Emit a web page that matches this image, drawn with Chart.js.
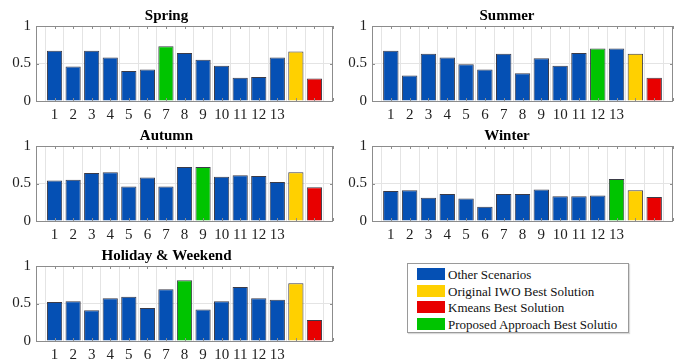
<!DOCTYPE html>
<html>
<head>
<meta charset="utf-8">
<script src="https://cdn.jsdelivr.net/npm/chart.js@4/dist/chart.umd.min.js"></script>
<style>
  body { margin: 0; background: #fff; }
  #wrap { position: relative; width: 683px; height: 360px; overflow: hidden; }
  .panel { position: absolute; }
  #legend {
    position: absolute; left: 407px; top: 263px; width: 220px; height: 68px;
    border: 1px solid #9a9a9a; background: #fff;
    box-shadow: 1px 1px 1px rgba(0,0,0,0.15);
    font-family: "Liberation Serif", "Times New Roman", Tinos, "DejaVu Serif", serif;
    font-size: 13px; color: #111;
  }
  .row { position: absolute; left: 9px; height: 13px; line-height: 13px; white-space: nowrap; }
  .sw { display: inline-block; width: 28px; height: 12px; vertical-align: top; margin-right: 3px; }
</style>
</head>
<body>
<div id="wrap">
  <canvas id="spring" class="panel"></canvas>
  <canvas id="summer" class="panel"></canvas>
  <canvas id="autumn" class="panel"></canvas>
  <canvas id="winter" class="panel"></canvas>
  <canvas id="holiday" class="panel"></canvas>
  <div id="legend"></div>
</div>
<script>
// Tick labels under the bars (last two bars are unlabeled)
const tickLabels = ["1", "2", "3", "4", "5", "6", "7", "8", "9", "10", "11", "12", "13", "", ""];
const yTicks = [0, 0.5, 1];

// 13 scenarios, then Original IWO best, then Kmeans best
const springValues = [0.67, 0.46, 0.67, 0.58, 0.40, 0.42, 0.73, 0.64, 0.55, 0.47, 0.31, 0.32, 0.58, 0.66, 0.30];
const summerValues = [0.67, 0.34, 0.63, 0.58, 0.49, 0.42, 0.63, 0.37, 0.57, 0.47, 0.64, 0.70, 0.70, 0.63, 0.31];
const autumnValues = [0.54, 0.55, 0.64, 0.65, 0.46, 0.58, 0.46, 0.72, 0.72, 0.59, 0.61, 0.60, 0.52, 0.65, 0.45];
const winterValues = [0.40, 0.41, 0.31, 0.36, 0.30, 0.19, 0.36, 0.36, 0.42, 0.33, 0.33, 0.34, 0.56, 0.41, 0.32];
const holidayValues = [0.52, 0.53, 0.41, 0.57, 0.59, 0.44, 0.69, 0.81, 0.42, 0.53, 0.72, 0.57, 0.55, 0.77, 0.28];

// Scenario number of the proposed approach's best solution (green bar)
const springBest = 7;
const summerBest = 12;
const autumnBest = 9;
const winterBest = 13;
const holidayBest = 8;

const legendLabels = ["Other Scenarios", "Original IWO Best Solution", "Kmeans Best Solution", "Proposed Approach Best Solutio"];

const colors = {
  other: "#0550b4",
  iwo: "#ffd000",
  kmeans: "#e80000",
  proposed: "#00c400",
};

const serif = "'Liberation Serif', 'Times New Roman', Tinos, 'DejaVu Serif', serif";

// Draw the box round the axes plus small inward tick marks, MATLAB style
const framePlugin = {
  id: "frame",
  afterDraw(chart) {
    const { ctx, chartArea: a, scales } = chart;
    ctx.save();
    ctx.strokeStyle = "#8c8c8c";
    ctx.lineWidth = 1;
    ctx.strokeRect(a.left + 0.5, a.top + 0.5, a.right - a.left - 1, a.bottom - a.top);
    ctx.beginPath();
    scales.x.ticks.forEach((t, i) => {
      const x = Math.round(scales.x.getPixelForTick(i)) + 0.5;
      ctx.moveTo(x, a.top);
      ctx.lineTo(x, a.top + 3);
      ctx.moveTo(x, a.bottom);
      ctx.lineTo(x, a.bottom - 3);
    });
    scales.y.ticks.forEach((t, i) => {
      const y = Math.round(scales.y.getPixelForTick(i)) + 0.5;
      ctx.moveTo(a.left, y);
      ctx.lineTo(a.left + 3, y);
      ctx.moveTo(a.right, y);
      ctx.lineTo(a.right - 3, y);
    });
    ctx.stroke();
    ctx.restore();
  },
};

const barColors = (best) =>
  tickLabels.map((_, i) => {
    if (i === tickLabels.length - 2) return colors.iwo;
    if (i === tickLabels.length - 1) return colors.kmeans;
    return i + 1 === best ? colors.proposed : colors.other;
  });

const makePanel = (id, title, values, best, box) => {
  const canvas = document.getElementById(id);
  canvas.style.left = box.left + "px";
  canvas.style.top = box.top + "px";
  canvas.width = box.width;
  canvas.height = box.height;

  // Pad the category axis with an empty slot at each end (xlim 0..16)
  const labels = ["", ...tickLabels, ""];
  const data = [null, ...values, null];
  const bg = [null, ...barColors(best), null];

  new Chart(canvas, {
    type: "bar",
    data: {
      labels,
      datasets: [
        {
          data,
          backgroundColor: bg,
          borderColor: "rgba(25,25,40,0.85)",
          borderWidth: 1,
          barPercentage: 0.82,
          categoryPercentage: 1,
        },
      ],
    },
    options: {
      responsive: false,
      animation: false,
      devicePixelRatio: 1,
      layout: { padding: { top: 7, right: box.padRight, bottom: 0, left: 0 } },
      plugins: {
        legend: { display: false },
        tooltip: { enabled: false },
        title: {
          display: true,
          text: title,
          color: "#000",
          font: { family: serif, size: 15, weight: "bold", lineHeight: 1.2 },
          padding: { top: 0, bottom: 1 },
        },
      },
      scales: {
        x: {
          offset: false,
          grid: { color: "#e4e4e4", drawTicks: false },
          border: { display: false },
          ticks: {
            autoSkip: false,
            maxRotation: 0,
            padding: 5,
            color: "#222",
            font: { family: serif, size: 15 },
          },
          afterFit: (scale) => {
            scale.height = 19;
          },
        },
        y: {
          min: 0,
          max: 1,
          afterBuildTicks: (scale) => {
            scale.ticks = yTicks.map((v) => ({ value: v }));
          },
          grid: { color: "#e4e4e4", drawTicks: false },
          border: { display: false },
          ticks: {
            padding: 5,
            color: "#222",
            font: { family: serif, size: 15 },
            callback: (v) => String(v),
          },
          afterFit: (scale) => {
            scale.width = box.axisWidth;
          },
        },
      },
    },
    plugins: [framePlugin],
  });
};

const leftBox = { left: 0, width: 341, height: 120, axisWidth: 36, padRight: 8 };
const rightBox = { left: 341, width: 342, height: 120, axisWidth: 31, padRight: 10 };

makePanel("spring", "Spring", springValues, springBest, { ...leftBox, top: 0 });
makePanel("summer", "Summer", summerValues, summerBest, { ...rightBox, top: 0 });
makePanel("autumn", "Autumn", autumnValues, autumnBest, { ...leftBox, top: 120 });
makePanel("winter", "Winter", winterValues, winterBest, { ...rightBox, top: 120 });
makePanel("holiday", "Holiday & Weekend", holidayValues, holidayBest, { ...leftBox, top: 240 });

// Legend box
const legend = document.getElementById("legend");
const legendColors = [colors.other, colors.iwo, colors.kmeans, colors.proposed];
legendLabels.forEach((label, i) => {
  const row = document.createElement("div");
  row.className = "row";
  row.style.top = 4 + i * 16.5 + "px";
  const sw = document.createElement("span");
  sw.className = "sw";
  sw.style.background = legendColors[i];
  row.appendChild(sw);
  row.appendChild(document.createTextNode(label));
  legend.appendChild(row);
});
</script>
</body>
</html>
